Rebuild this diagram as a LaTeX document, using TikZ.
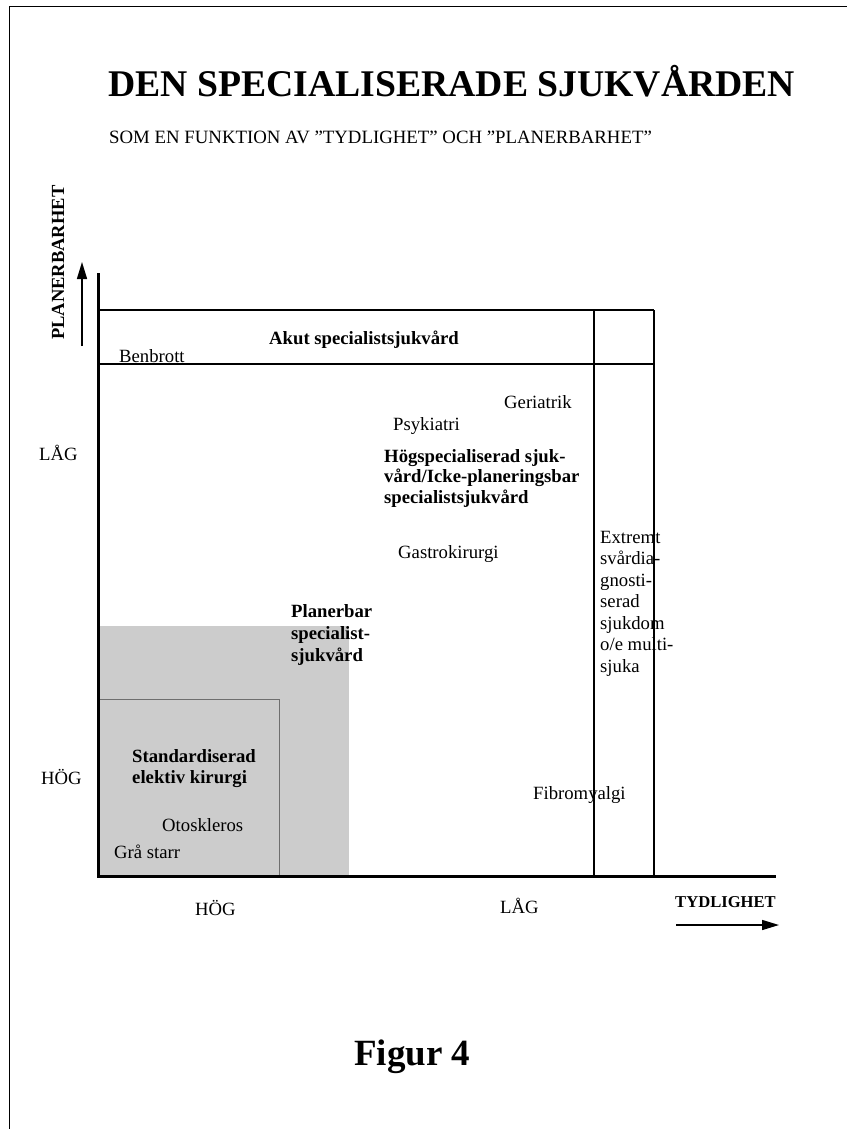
\documentclass[tikz,border=0pt]{standalone}
\usepackage{fontspec}
\setmainfont{Liberation Serif}
\usetikzlibrary{arrows.meta}
\tikzset{
  lbl/.style={inner sep=0pt, anchor=base west, align=left, font=\fontsize{18.7pt}{21.5pt}\selectfont},
  blbl/.style={inner sep=0pt, anchor=base west, align=left, font=\fontsize{18.7pt}{21.5pt}\selectfont\bfseries},
  bigtitle/.style={inner sep=0pt, anchor=base west, font=\fontsize{37.7pt}{42pt}\selectfont\bfseries},
  boxline/.style={line width=1.3pt},
  axisline/.style={line width=3pt},
  axisarrow/.style={line width=1.5pt, -{Triangle[length=17pt,width=10pt]}},
  framel/.style={line width=1.5pt}
}
\begin{document}
\begin{tikzpicture}[x=1pt,y=-1pt]
\useasboundingbox (0,0) rectangle (847,1129);
% page frame
\draw[framel] (9.5,1129) -- (9.5,6.5) -- (847,6.5);
% titles
\node[bigtitle] (title) at (108,97) {DEN SPECIALISERADE SJUKVÅRDEN};
\node[lbl, font=\fontsize{18.8pt}{22pt}\selectfont] (subtitle) at (109,143) {SOM EN FUNKTION AV ”TYDLIGHET” OCH ”PLANERBARHET”};
% shaded regions
\fill[fill={rgb,255:red,204;green,204;blue,204}] (98,626) rectangle (349,876);
\draw[draw={rgb,255:red,110;green,110;blue,110}, line width=1pt] (98,699) -- (279,699) -- (279,876);
% grid lines
\coordinate (tl) at (98,310);
\coordinate (tr) at (654,310);
\coordinate (ml) at (98,364);
\coordinate (mr) at (654,364);
\coordinate (v1t) at (594,310);
\coordinate (v1b) at (594,876);
\coordinate (v2b) at (654,876);
\draw[boxline] (tl) -- (tr);
\draw[boxline] (ml) -- (mr);
\draw[boxline] (v1t) -- (v1b);
\draw[boxline] (tr) -- (v2b);
% axes
\coordinate (ytop) at (98,273);
\coordinate (origin) at (98,876);
\coordinate (xend) at (776,876);
\draw[axisline] (ytop) -- (origin) -- (xend);
% axis arrows
\coordinate (ua0) at (82,346);
\coordinate (ua1) at (82,262);
\draw[axisarrow] (ua0) -- (ua1);
\coordinate (ra0) at (676,925);
\coordinate (ra1) at (779,925);
\draw[axisarrow] (ra0) -- (ra1);
% axis labels
\node[blbl, rotate=90, font=\fontsize{18.5pt}{21pt}\selectfont\bfseries] (ylab) at (64,340) {PLANERBARHET};
\node[blbl, font=\fontsize{16.6pt}{20pt}\selectfont\bfseries] (xlab) at (675,907) {TYDLIGHET};
\node[lbl] (ylag) at (39,460) {LÅG};
\node[lbl] (yhog) at (41,784) {HÖG};
\node[lbl] (xhog) at (195,915) {HÖG};
\node[lbl] (xlag) at (500,913) {LÅG};
% region labels
\node[blbl] (akut) at (269,344) {Akut specialistsjukvård};
\node[lbl] (benbrott) at (119,362) {Benbrott};
\node[lbl] (geriatrik) at (504,408) {Geriatrik};
\node[lbl] (psyk) at (393,430) {Psykiatri};
\node[blbl, font=\fontsize{18.7pt}{20.5pt}\selectfont\bfseries] (hogspec) at (384,503) {Högspecialiserad sjuk-\\vård/Icke-planeringsbar\\specialistsjukvård};
\node[lbl] (gastro) at (398,558) {Gastrokirurgi};
\node[lbl] (extremt) at (600,672) {Extremt\\svårdia-\\gnosti-\\serad\\sjukdom\\o/e multi-\\sjuka};
\node[blbl, font=\fontsize{18.7pt}{22pt}\selectfont\bfseries] (planerbar) at (291,661) {Planerbar\\specialist-\\sjukvård};
\node[blbl] (standard) at (132,783.5) {Standardiserad\\elektiv kirurgi};
\node[lbl] (otoskleros) at (162,831) {Otoskleros};
\node[lbl] (grastarr) at (114,858) {Grå starr};
\node[lbl] (fibro) at (533,799) {Fibromyalgi};
% figure caption
\node[bigtitle, font=\fontsize{37pt}{42pt}\selectfont\bfseries] (figur) at (354,1065) {Figur 4};
\end{tikzpicture}
\end{document}
